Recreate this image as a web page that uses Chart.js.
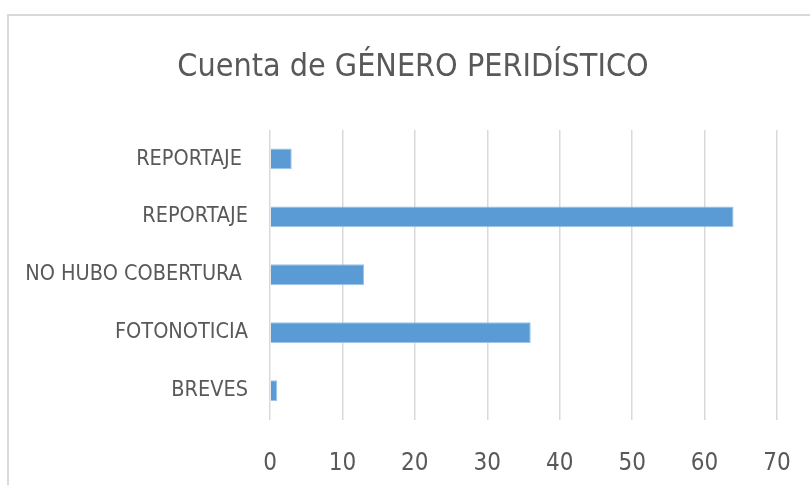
<!DOCTYPE html>
<html>
<head>
<meta charset="utf-8">
<script src="https://cdn.jsdelivr.net/npm/chart.js@4"></script>
<style>
  html, body { margin: 0; padding: 0; background: #fff; overflow: hidden; }
  #wrap { position: relative; width: 810px; height: 485px; }
  #frame {
    position: absolute; left: 7px; top: 14px; width: 900px; height: 600px;
    border-left: 2px solid #d9d9d9; border-top: 2px solid #d9d9d9;
  }
  canvas { position: absolute; left: 0; top: 0; }
</style>
</head>
<body>
<div id="wrap">
  <div id="frame"></div>
  <canvas id="chart" width="810" height="485"></canvas>
</div>
<script>
// datos
const titulo = 'Cuenta de GÉNERO PERIDÍSTICO';
const categorias = ['REPORTAJE ', 'REPORTAJE', 'NO HUBO COBERTURA ', 'FOTONOTICIA', 'BREVES'];
const cuentas = [3, 64, 13, 36, 1];
const ejeMin = 0;
const ejeMax = 70;
const ejePaso = 10;

const fuente = "'DejaVu Sans Condensed', 'DejaVu Sans', sans-serif";
const gris = '#595959';

// el título va centrado sobre el marco, no sobre el canvas
const tituloPlugin = {
  id: 'tituloMarco',
  afterDraw(chart) {
    const ctx = chart.ctx;
    ctx.save();
    ctx.fillStyle = gris;
    ctx.font = '32px ' + fuente;
    ctx.textAlign = 'center';
    ctx.textBaseline = 'middle';
    ctx.fillText(titulo, 413, 68);
    ctx.restore();
  }
};

new Chart(document.getElementById('chart'), {
  type: 'bar',
  data: {
    labels: categorias,
    datasets: [{
      data: cuentas,
      backgroundColor: '#5b9bd5',
      borderColor: '#9dc3e6',
      borderWidth: 1,
      categoryPercentage: 1,
      barPercentage: 0.36
    }]
  },
  options: {
    indexAxis: 'y',
    responsive: false,
    animation: false,
    layout: { padding: { left: 0, right: 33, top: 130, bottom: 0 } },
    plugins: {
      legend: { display: false },
      tooltip: { enabled: false },
      title: { display: false }
    },
    scales: {
      x: {
        min: ejeMin,
        max: ejeMax,
        ticks: {
          stepSize: ejePaso,
          color: gris,
          font: { family: fuente, size: 24 },
          padding: 30,
          maxRotation: 0
        },
        grid: { color: '#d9d9d9', lineWidth: 1.5, drawTicks: false },
        border: { display: false },
        afterFit(scale) {
          scale.height = 65.5;
          scale.paddingLeft = 0;
          scale.paddingRight = 0;
        }
      },
      y: {
        ticks: {
          color: gris,
          font: { family: fuente, size: 21.5 },
          padding: 22
        },
        grid: { display: false, drawTicks: false },
        border: { display: false },
        afterFit(scale) { scale.width = 270; }
      }
    }
  },
  plugins: [tituloPlugin]
});
</script>
</body>
</html>
